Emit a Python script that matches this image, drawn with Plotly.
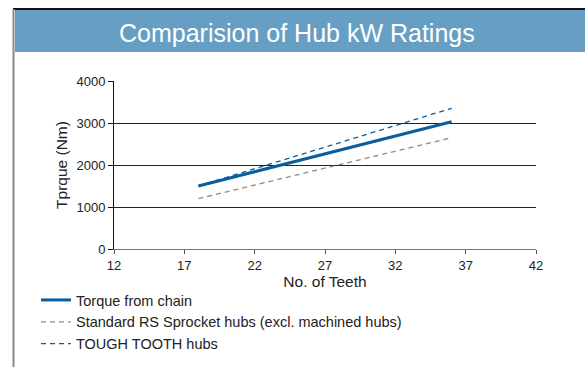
import plotly.graph_objects as go

# Torque ratings vs number of sprocket teeth
teeth = [18, 36]
torque_chain = [1500, 3030]
standard_rs_hubs = [1200, 2650]
tough_tooth_hubs = [1500, 3350]

x_ticks = [12, 17, 22, 27, 32, 37, 42]
y_ticks = [0, 1000, 2000, 3000, 4000]

W, H = 585, 367
L, R, T, B = 114, 49, 81, 118
pw, ph = W - L - R, H - T - B

def px(x):
    return (x - L) / pw

def py(y):
    return (H - B - y) / ph

fig = go.Figure()
fig.add_trace(go.Scatter(x=teeth, y=torque_chain, mode="lines",
                         name="Torque from chain",
                         line=dict(color="#0a5e9e", width=3)))
fig.add_trace(go.Scatter(x=teeth, y=standard_rs_hubs, mode="lines",
                         name="Standard RS Sprocket hubs (excl. machined hubs)",
                         line=dict(color="#8c8c8c", width=1.3, dash="5px,4px")))
fig.add_trace(go.Scatter(x=teeth, y=tough_tooth_hubs, mode="lines",
                         name="TOUGH TOOTH hubs",
                         line=dict(color="#0a5e9e", width=1.3, dash="5px,4px")))

shapes = [
    # header band
    dict(type="rect", xref="paper", yref="paper", x0=px(15), x1=px(W + 5),
         y0=py(52), y1=py(10), fillcolor="#679fc4", line=dict(width=0), layer="below"),
    dict(type="line", xref="paper", yref="paper", x0=px(13), x1=px(W + 5),
         y0=py(9), y1=py(9), line=dict(color="#111111", width=2)),
    # left border
    dict(type="line", xref="paper", yref="paper", x0=px(13.5), x1=px(13.5),
         y0=py(9), y1=py(H + 5), line=dict(color="#8a8a8a", width=2)),
]

fig.update_layout(
    width=W, height=H,
    margin=dict(l=L, r=R, t=T, b=B, autoexpand=False),
    paper_bgcolor="white", plot_bgcolor="white",
    font=dict(family="Liberation Sans, Arial, sans-serif", color="#222222", size=13),
    shapes=shapes,
    annotations=[dict(text="Comparision of Hub kW Ratings", xref="paper", yref="paper",
                      x=px(297), y=py(33), xanchor="center", yanchor="middle",
                      showarrow=False, font=dict(size=25, color="white"))],
    xaxis=dict(range=[12, 42], tickvals=x_ticks, showgrid=False, zeroline=False,
               showline=True, linecolor="#777777", linewidth=1,
               ticks="outside", ticklen=4, tickcolor="#555555",
               tickfont=dict(size=13),
               title=dict(text="No. of Teeth", font=dict(size=15.5), standoff=3)),
    yaxis=dict(range=[0, 4000], tickvals=y_ticks, showgrid=True, gridcolor="#222222",
               gridwidth=1, zeroline=False, showline=True, linecolor="#111111",
               linewidth=1, ticks="outside", ticklen=5, tickcolor="#111111",
               tickfont=dict(size=13),
               title=dict(text="Tprque (Nm)", font=dict(size=15.5), standoff=5)),
    legend=dict(x=px(36), y=py(284), xanchor="left", yanchor="top",
                font=dict(size=14.5), tracegroupgap=0, itemwidth=30,
                bgcolor="rgba(0,0,0,0)"),
    showlegend=True,
)

fig.write_html("out.html")
